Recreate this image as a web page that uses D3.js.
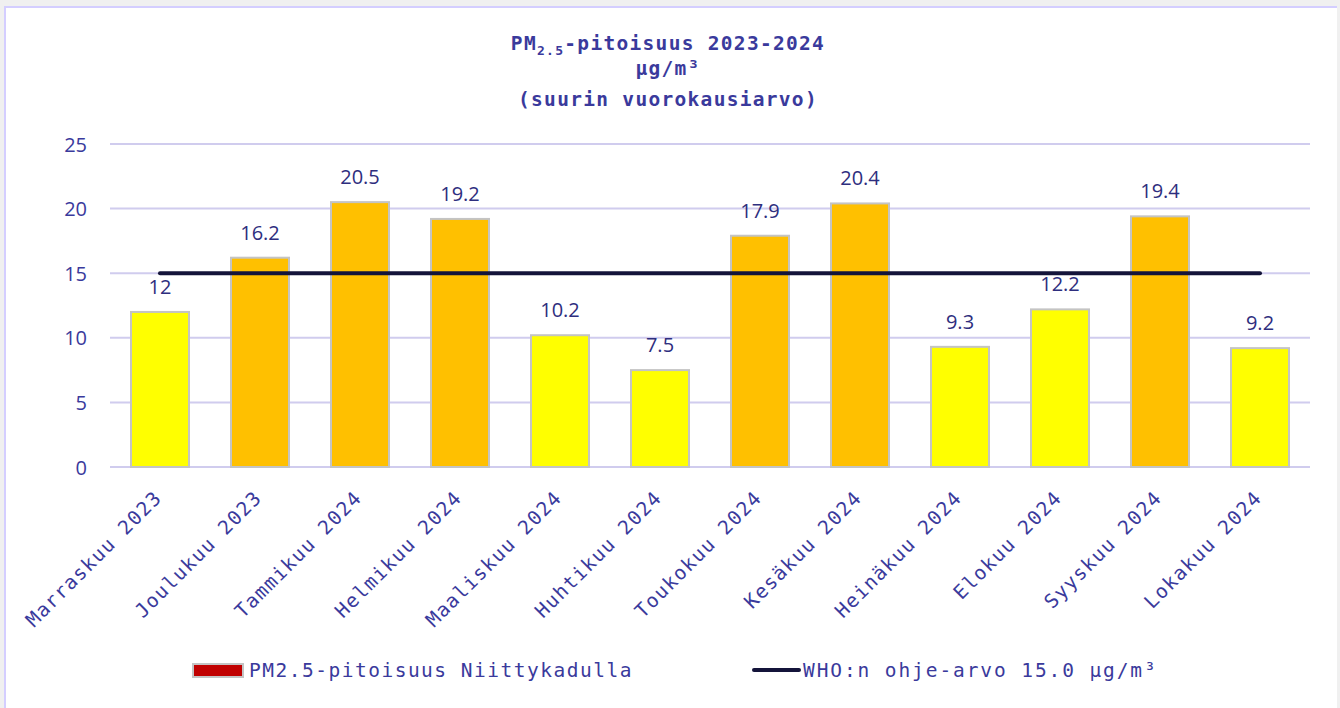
<!DOCTYPE html>
<html><head><meta charset="utf-8">
<script src="https://cdn.jsdelivr.net/npm/d3@7"></script>
<style>
html,body{margin:0;padding:0;background:#f0f0f0;}
svg{display:block;}
</style></head>
<body>
<svg id="chart" width="1340" height="708"></svg>
<script>
const categories = ["Marraskuu 2023","Joulukuu 2023","Tammikuu 2024","Helmikuu 2024","Maaliskuu 2024","Huhtikuu 2024","Toukokuu 2024","Kesäkuu 2024","Heinäkuu 2024","Elokuu 2024","Syyskuu 2024","Lokakuu 2024"];
const values = [12, 16.2, 20.5, 19.2, 10.2, 7.5, 17.9, 20.4, 9.3, 12.2, 19.4, 9.2];
const whoLimit = 15;
const yTicks = [0, 5, 10, 15, 20, 25];
const seriesNames = ["PM2.5-pitoisuus Niittykadulla", "WHO:n ohje-arvo 15.0 µg/m³"];

const svg = d3.select("#chart");
const txt = "#3a3a9c";
const mono = "'DejaVu Sans Mono', monospace";
const sans = "'Open Sans', 'Liberation Sans', sans-serif";

// panel
svg.append("rect").attr("x",4).attr("y",6).attr("width",1333).attr("height",710)
  .attr("fill","#fff");
svg.append("path").attr("d","M5,716 V7 H1337").attr("fill","none").attr("stroke","#d4ceff").attr("stroke-width",2);

const x = d3.scaleBand().domain(categories).range([110,1310]).paddingInner(0.42).paddingOuter(0.21);
const y = d3.scaleLinear().domain([0,25]).range([467,144]);

// gridlines
svg.append("g").selectAll("line").data(yTicks).join("line")
  .attr("x1",110).attr("x2",1310).attr("y1",d=>y(d)).attr("y2",d=>y(d))
  .attr("stroke","#d0ccee").attr("stroke-width",2);

// y axis labels
const yAxis = d3.axisLeft(y).tickValues(yTicks).tickSize(0).tickPadding(0).tickFormat(d3.format("d"));
const gy = svg.append("g").attr("transform","translate(87,0)").call(yAxis);
gy.select(".domain").remove();
gy.selectAll("text").attr("fill",txt).style("font-family",sans).style("font-size","20px").attr("dy","0.35em");

// bars
svg.append("g").selectAll("rect").data(values).join("rect")
  .attr("x",(d,i)=>x(categories[i])).attr("width",x.bandwidth())
  .attr("y",d=>y(d)).attr("height",d=>y(0)-y(d))
  .attr("fill",d=>d>whoLimit?"#ffc000":"#ffff00")
  .attr("stroke","#c4c4c4").attr("stroke-width",2);

// value labels
svg.append("g").selectAll("text").data(values).join("text")
  .attr("x",(d,i)=>x(categories[i])+x.bandwidth()/2)
  .attr("y",d=>y(d)-18)
  .attr("text-anchor","middle").attr("fill","#2e2e7e")
  .style("font-family",sans).style("font-size","20px")
  .text(d=>d3.format("")(d));

// WHO line
const cx = i => x(categories[i]) + x.bandwidth()/2;
svg.append("line").attr("x1",cx(0)).attr("x2",cx(categories.length-1))
  .attr("y1",y(whoLimit)).attr("y2",y(whoLimit))
  .attr("stroke","#14143a").attr("stroke-width",4).attr("stroke-linecap","round");

// x labels
svg.append("g").selectAll("text").data(categories).join("text")
  .attr("transform",(d,i)=>`translate(${cx(i)+3},${499}) rotate(-45)`)
  .attr("text-anchor","end").attr("fill",txt)
  .style("font-family",mono).style("font-size","19.5px").style("letter-spacing","1.3px")
  .text(d=>d);

// title
const title = svg.append("text").attr("x",668).attr("text-anchor","middle")
  .attr("fill",txt).style("font-family",mono).style("font-size","19.5px").style("font-weight","bold")
  .style("letter-spacing","1.3px");
const t1 = title.append("tspan").attr("x",668).attr("y",50);
t1.append("tspan").text("PM");
t1.append("tspan").text("2.5").style("font-size","13px").attr("dy",5);
t1.append("tspan").text("-pitoisuus 2023-2024").attr("dy",-5);
title.append("tspan").attr("x",668).attr("y",75).text("µg/m³");
title.append("tspan").attr("x",668).attr("y",106).text("(suurin vuorokausiarvo)");

// legend
const lg = svg.append("g");
lg.append("rect").attr("x",193).attr("y",664).attr("width",50).attr("height",13)
  .attr("fill","#c00000").attr("stroke","#c4c4c4").attr("stroke-width",2);
lg.append("text").attr("x",249).attr("y",677).attr("fill",txt)
  .style("font-family",mono).style("font-size","19.5px").style("letter-spacing","1.5px").text(seriesNames[0]);
lg.append("line").attr("x1",754).attr("x2",799).attr("y1",670).attr("y2",670)
  .attr("stroke","#14143a").attr("stroke-width",4).attr("stroke-linecap","round");
lg.append("text").attr("x",803).attr("y",677).attr("fill",txt)
  .style("font-family",mono).style("font-size","19.5px").style("letter-spacing","1.9px").text(seriesNames[1]);
</script>
</body></html>
